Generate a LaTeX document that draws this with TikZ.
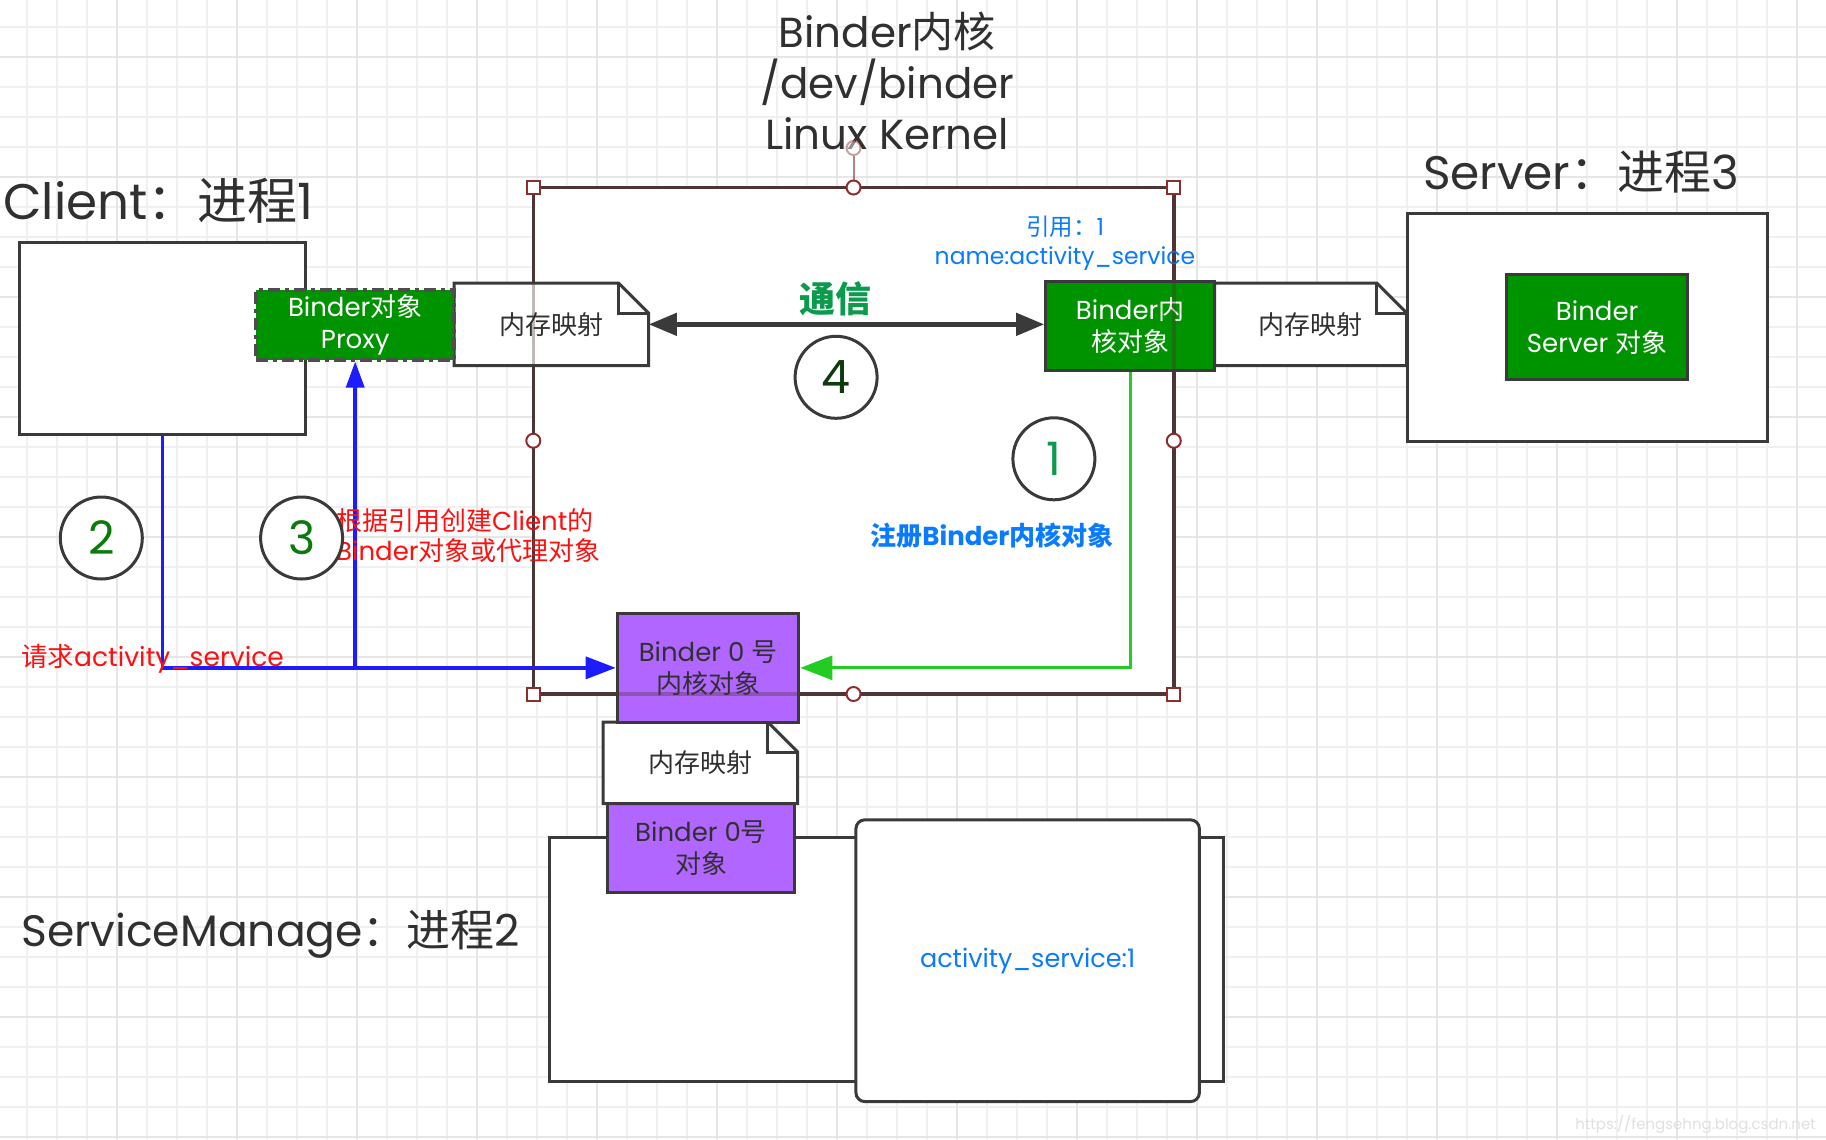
\documentclass[tikz,border=0pt]{standalone}
\usepackage{fontspec}
\setmainfont{Poppins}
\newfontfamily\cjk{Noto Sans CJK SC}
\usetikzlibrary{arrows.meta}
\definecolor{boxgray}{HTML}{3A3A3A}
\definecolor{txtgray}{HTML}{303030}
\definecolor{kgreen}{HTML}{009300}
\definecolor{kpurple}{HTML}{B066FF}
\definecolor{kbrown}{HTML}{4E3434}
\definecolor{handlered}{HTML}{8A2E2E}
\definecolor{lblue}{HTML}{1C1CFF}
\definecolor{lgreen}{HTML}{22CC22}
\definecolor{tblue}{HTML}{0A7BFF}
\definecolor{tred}{HTML}{FF1010}
\definecolor{tgreen}{HTML}{0C9A4C}
\definecolor{numgreen}{HTML}{0A7A0A}
\definecolor{numdark}{HTML}{0E3A0E}
\definecolor{gridc}{HTML}{F0F0F0}
\definecolor{gridm}{HTML}{E6E6E6}
\newcommand{\zh}[1]{{\cjk #1}}
\newcommand{\bxfont}{\fontsize{26}{32}\selectfont}
\newcommand{\notebox}[6]{%
  \draw[notestyle] (#2,#3) -- ({#4-30},#3) -- (#4,{#3+30}) -- (#4,#5) -- (#2,#5) -- cycle;
  \draw[notestyle,fill=none] ({#4-30},#3) -- ({#4-30},{#3+30}) -- (#4,{#3+30});
  \node[notetext, minimum width={#4-#2}, minimum height={#5-#3}] (#1) at ({(#2+#4)/2},{(#3+#5)/2}) {#6};
}
\begin{document}
\begin{tikzpicture}[x=1pt,y=-1pt,
  gridminor/.style={draw=gridc, line width=1.2pt},
  gridmajor/.style={draw=gridm, line width=1.6pt},
  procbox/.style={draw=boxgray, line width=3pt, fill=white, rectangle, inner sep=0pt},
  greenbox/.style={procbox, fill=kgreen, text=white, align=center, font=\bxfont},
  purplebox/.style={procbox, fill=kpurple, text=txtgray, align=center, font=\bxfont},
  notestyle/.style={draw=boxgray, line width=3pt, fill=white, line join=miter},
  notetext/.style={inner sep=0pt, text=txtgray, font=\bxfont},
  numc/.style={circle, draw=boxgray, line width=3pt, fill=white, minimum size=82pt, inner sep=0pt, font=\fontsize{46}{50}\selectfont},
  kernelline/.style={draw=kbrown, line width=3.5pt},
  hsq/.style={rectangle, draw=handlered, line width=2pt, fill=white, minimum size=13pt, inner sep=0pt},
  hcirc/.style={circle, draw=handlered, line width=2pt, fill=white, minimum size=14pt, inner sep=0pt},
  blueconn/.style={draw=lblue, line width=3.5pt, -{Triangle[length=30pt,width=22pt]}},
  blueup/.style={draw=lblue, line width=3.5pt, -{Triangle[length=26pt,width=18pt]}},
  greenconn/.style={draw=lgreen, line width=3pt, -{Triangle[length=32pt,width=24pt]}},
  darrow/.style={draw=boxgray, line width=4.5pt, {Triangle[length=28pt,width=22pt]}-{Triangle[length=28pt,width=22pt]}},
  lbl/.style={inner sep=0pt, text=txtgray, font=\fontsize{50}{60}\selectfont},
  redtxt/.style={inner sep=0pt, text=tred, font=\fontsize{26}{30}\selectfont},
  bluetxt/.style={inner sep=0pt, text=tblue, font=\fontsize{23.5}{29}\selectfont}
]
\useasboundingbox (0,0) rectangle (1826,1140);
\fill[white] (0,0) rectangle (1826,1140);
% grid
\foreach \gx in {27,57,...,1826} {\draw[gridminor] (\gx,0) -- (\gx,1140);}
\foreach \gy in {27,57,...,1140} {\draw[gridminor] (0,\gy) -- (1826,\gy);}
\foreach \gx in {117,237,...,1826} {\draw[gridmajor] (\gx,0) -- (\gx,1140);}
\foreach \gy in {57,177,...,1140} {\draw[gridmajor] (0,\gy) -- (1826,\gy);}

% kernel area (solid, behind)
\node[kernelline, fill=white, rectangle, outer sep=0pt, inner sep=0pt, minimum width=640.5, minimum height=506.5] (kernel) at (853.55,440.75) {};

% process boxes
\node[procbox, minimum width=285.3, minimum height=192.2] (client) at (162.5,338.3) {};
\node[procbox, minimum width=359.8, minimum height=228.2] (server) at (1587.8,327.2) {};

% notes
\notebox{memL}{454.2}{283}{648.6}{365.7}{\zh{内存映射}}
\notebox{memR}{1214.6}{283}{1406.7}{365.7}{\zh{内存映射}}

% proxy and kernel object
\node[greenbox, draw=boxgray!90, dash pattern=on 12pt off 5pt on 4pt off 5pt, line width=3.5pt, minimum width=198, minimum height=69.8] (proxy) at (355.2,324.9) {Binder\zh{对象}\\Proxy};
\node[greenbox, minimum width=168.9, minimum height=88.5] (bko) at (1130.15,326.05) {Binder\zh{内}\\\zh{核对象}};
\node[greenbox, minimum width=180.5, minimum height=104.8] (bso) at (1597.15,327.2) {Binder\\Server \zh{对象}};

% service manager
\node[procbox, minimum width=674.3, minimum height=244.5] (smback) at (886.75,959.55) {};
\node[purplebox, minimum width=186.3, minimum height=88.5] (b0obj) at (701.05,847.75) {Binder 0\zh{号}\\\zh{对象}};
\node[procbox, rounded corners=9pt, minimum width=343.5, minimum height=281.8, text=tblue, font=\fontsize{25.5}{30}\selectfont] (smfront) at (1027.65,960.7) {activity\_service:1};
\notebox{memB}{603.2}{722}{797.7}{803.5}{\zh{内存映射}}
\node[purplebox, minimum width=181.7, minimum height=108.3] (b0) at (708.05,667.85) {Binder 0 \zh{号}\\\zh{内核对象}};

% connectors
\draw[blueconn] (client.south) |- (b0.west);
\coordinate (j3) at (proxy.south |- b0.west);
\draw[blueup] (j3) -- (proxy.south);
\draw[greenconn] (bko.south) |- (b0.east);
\draw[darrow] (memL.east) -- (memL.east -| bko.west);

% texts
\node[inner sep=0pt, text=txtgray, align=center, font=\fontsize{42}{51}\selectfont] (title) at (887.3,81) {Binder\zh{内核}\\/dev/binder\\Linux Kernel};
\node[lbl, anchor=west] (clientlbl) at (3,201) {Client\zh{：进程}1};
\node[lbl, anchor=west, font=\fontsize{47}{56}\selectfont] (serverlbl) at (1423,172) {Server\zh{：进程}3};
\node[lbl, anchor=west, font=\fontsize{44}{54}\selectfont] (smlbl) at (21,934) {ServiceManage\zh{：进程}2};
\node[inner sep=0pt, text=tgreen, font=\fontsize{36}{40}\selectfont\cjk\bfseries] (comm) at (835,299) {通信};
\node[bluetxt, align=center] (ref) at (1065,243) {\zh{引用：}1\\name:activity\_service};
\node[bluetxt, font=\fontsize{26}{32}\selectfont\bfseries] (regtxt) at (992,536) {\zh{注册}Binder\zh{内核对象}};
\node[redtxt, anchor=west, align=left] (clienttxt) at (336,536) {\zh{根据引用创建}Client\zh{的}\\Binder\zh{对象或代理对象}};
\node[redtxt, anchor=west, font=\fontsize{26.5}{32}\selectfont] (reqtxt) at (21,659) {\zh{请求}activity\_service};
\node[anchor=east, inner sep=0pt, text=black!12, font=\fontsize{15}{18}\selectfont] (wm) at (1816,1124) {https://fengsehng.blog.csdn.net};

% step circles
\node[numc, text=numgreen] (c2) at (101.3,538) {2};
\node[numc, text=numgreen] (c3) at (301.6,538) {3};
\node[numc, text=numdark] (c4) at (836.1,377.3) {4};
\node[numc, text=tgreen] (c1) at (1053.9,458.8) {1};

% kernel overlay and handles
\draw[kernelline, opacity=0.35] (kernel.north west) rectangle (kernel.south east);
\node[hcirc, opacity=0.45] (hrot) at (853.55,148) {};
\draw[handlered, line width=2pt, opacity=0.6] (hrot) -- (kernel.north);
\node[hsq] (hnw) at (kernel.north west) {};
\node[hsq] (hne) at (kernel.north east) {};
\node[hsq] (hsw) at (kernel.south west) {};
\node[hsq] (hse) at (kernel.south east) {};
\node[hcirc] (hn) at (kernel.north) {};
\node[hcirc] (hs) at (kernel.south) {};
\node[hcirc] (he) at (kernel.east) {};
\node[hcirc] (hw) at (kernel.west) {};
\end{tikzpicture}
\end{document}
